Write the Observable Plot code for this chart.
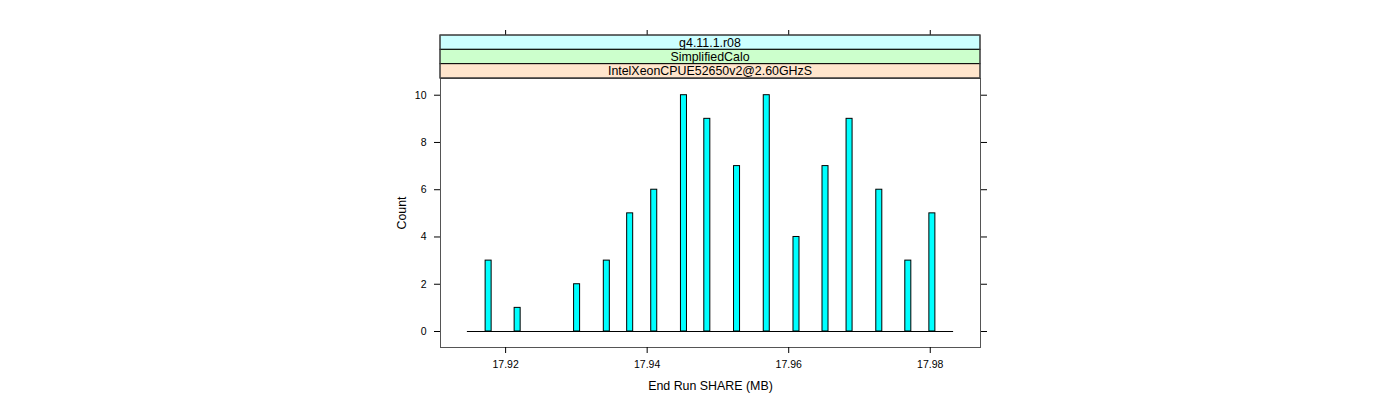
<!DOCTYPE html>
<html>
<head>
<meta charset="utf-8">
<script src="https://cdn.jsdelivr.net/npm/d3@7"></script>
<script src="https://cdn.jsdelivr.net/npm/@observablehq/plot@0.6"></script>
<style>
  html, body { margin: 0; padding: 0; background: #fff; }
</style>
</head>
<body>
<div id="chart"></div>
<script>
// ---- data ----
const binCenters = [17.9176, 17.9217, 17.9301, 17.9343, 17.9376, 17.9410, 17.9452, 17.9485,
                    17.9527, 17.9569, 17.9611, 17.9652, 17.9686, 17.9728, 17.9769, 17.9803];
const counts     = [3, 1, 2, 3, 5, 6, 10, 9, 7, 10, 4, 7, 9, 6, 3, 5];
const binWidth   = 0.00085;
const breaksRange = [17.9146, 17.9833];
const xTicks = [17.92, 17.94, 17.96, 17.98];
const yTicks = [0, 2, 4, 6, 8, 10];
const stripLabels = ["g4.11.1.r08", "SimplifiedCalo", "IntelXeonCPUE52650v2@2.60GHzS"];
const stripColors = ["#ccffff", "#ccffcc", "#ffe5cc"];
const xLabel = "End Run SHARE (MB)";
const yLabel = "Count";

const bins = binCenters.map((c, i) => ({x1: c - binWidth / 2, x2: c + binWidth / 2, count: counts[i]}));

const stripH = 14.33;
const frameColor = "#555";
const titleSize = 12.4;
const tickFont = 10.5;

function strips(index, scales, values, dim) {
  const g = d3.create("svg:g");
  const x0 = dim.marginLeft, x1 = dim.width - dim.marginRight;
  const top = dim.marginTop - stripLabels.length * stripH;
  stripLabels.forEach((lab, i) => {
    const y = top + i * stripH;
    g.append("rect").attr("x", x0).attr("y", y).attr("width", x1 - x0).attr("height", stripH)
      .attr("fill", stripColors[i]).attr("stroke", "#000").attr("stroke-width", 1);
    g.append("text").attr("x", (x0 + x1) / 2).attr("y", y + stripH / 2).attr("dy", "0.36em")
      .attr("text-anchor", "middle").attr("font-size", titleSize).attr("fill", "#000").text(lab);
  });
  g.append("rect").attr("x", x0).attr("y", top).attr("width", x1 - x0)
    .attr("height", dim.marginTop - top).attr("fill", "none").attr("stroke", frameColor);
  return g.node();
}

const chart = Plot.plot({
  width: 1400,
  height: 400,
  marginLeft: 440,
  marginRight: 420,
  marginTop: 78,
  marginBottom: 53,
  style: {fontFamily: "'Liberation Sans', Arial, sans-serif", background: "#fff", color: "#000"},
  x: {domain: [17.9108, 17.9871]},
  y: {domain: [-0.677, 10.707]},
  marks: [
    Plot.ruleY([0], {x1: breaksRange[0], x2: breaksRange[1], stroke: "#000"}),
    Plot.rectY(bins, {x1: "x1", x2: "x2", y: "count", fill: "#00ffff", stroke: "#000", strokeWidth: 1}),
    Plot.frame({stroke: frameColor}),
    Plot.axisX({anchor: "bottom", ticks: xTicks, tickFormat: d => d.toFixed(2), tickSize: 6, tickPadding: 7,
                fontSize: tickFont, label: xLabel, labelAnchor: "center", labelOffset: 42, labelArrow: "none"}),
    Plot.axisX({anchor: "top", ticks: xTicks, tickFormat: () => "", tickSize: 6, label: null,
                dy: -stripLabels.length * stripH}),
    Plot.axisY({anchor: "left", ticks: yTicks, tickSize: 6, tickPadding: 8, fontSize: tickFont,
                label: yLabel, labelAnchor: "center", labelOffset: 43, labelArrow: "none"}),
    Plot.axisY({anchor: "right", ticks: yTicks, tickSize: 6, tickFormat: () => "", label: null}),
    strips
  ]
});
chart.querySelectorAll("g[aria-label='x-axis tick label'] text, g[aria-label='y-axis tick label'] text")
  .forEach(t => t.setAttribute("font-size", String(tickFont)));
chart.querySelectorAll("g[aria-label='x-axis label'] text, g[aria-label='y-axis label'] text")
  .forEach(t => t.setAttribute("font-size", String(titleSize)));
document.getElementById("chart").appendChild(chart);
</script>
</body>
</html>
